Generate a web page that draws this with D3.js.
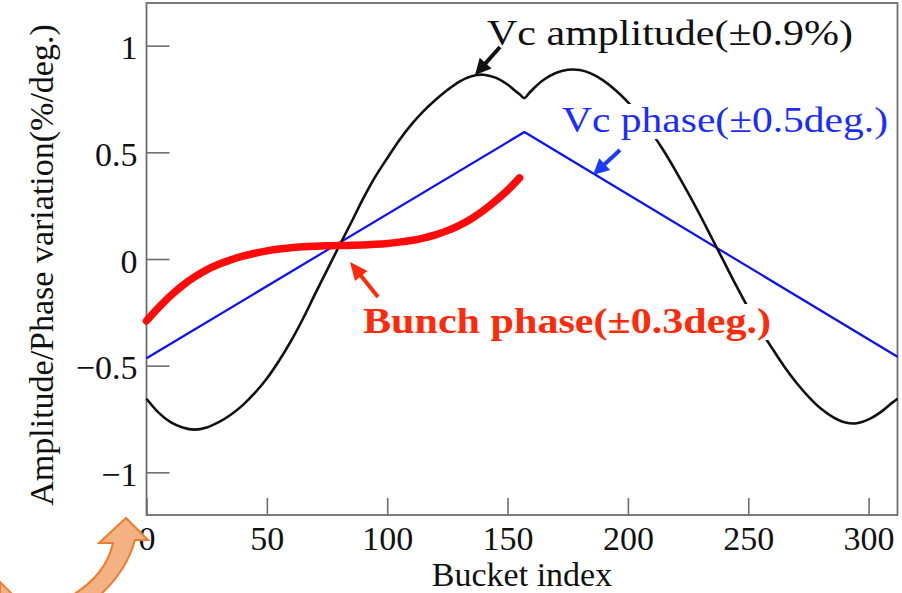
<!DOCTYPE html>
<html>
<head>
<meta charset="utf-8">
<script src="https://cdn.jsdelivr.net/npm/d3@7/dist/d3.min.js"></script>
<style>
  html, body { margin: 0; padding: 0; background: #fff; }
  svg { display: block; }
  text { font-family: "Liberation Serif", "Times New Roman", serif; }
</style>
</head>
<body>
<svg id="chart" width="902" height="593"></svg>
<script>
// Cavity voltage amplitude variation along the bunch train (%)
const ampIndex = [0, 5, 10, 15, 20, 25, 30, 35, 40, 45, 50, 55, 60, 65, 70, 75, 80, 85, 90, 95,
  100, 105, 110, 115, 120, 125, 130, 135, 140, 145, 150, 153, 155, 157, 159, 162, 165, 170, 175,
  180, 185, 190, 195, 200, 205, 210, 215, 220, 225, 230, 235, 240, 245, 250, 255, 260, 265, 270,
  275, 280, 285, 290, 295, 300, 305, 310, 312];
const ampValue = [-0.655, -0.72, -0.765, -0.79, -0.80, -0.79, -0.765, -0.73, -0.685, -0.628,
  -0.56, -0.478, -0.385, -0.28, -0.165, -0.052, 0.06, 0.17, 0.283, 0.385,
  0.472, 0.557, 0.63, 0.692, 0.745, 0.792, 0.832, 0.857, 0.864, 0.85, 0.818, 0.79, 0.772, 0.754,
  0.778, 0.812, 0.84, 0.872, 0.887, 0.886, 0.868, 0.835, 0.79, 0.735, 0.668, 0.59, 0.505, 0.41,
  0.31, 0.205, 0.095, -0.015, -0.125, -0.23, -0.33, -0.42, -0.505, -0.58, -0.645, -0.70, -0.74,
  -0.765, -0.77, -0.752, -0.718, -0.672, -0.655];

// Cavity voltage phase variation (deg.)
const phaseIndex = [0, 157, 312];
const phaseValue = [-0.465, 0.595, -0.458];

// Bunch phase variation over the first half of the train (deg.)
const bunchIndex = [0, 5, 10, 15, 20, 25, 30, 35, 40, 45, 50, 55, 60, 65, 70, 75, 80, 85, 90, 95,
  100, 105, 110, 115, 120, 125, 130, 135, 140, 145, 150, 155];
const bunchValue = [-0.29, -0.228, -0.172, -0.124, -0.084, -0.051, -0.025, -0.004, 0.013, 0.027,
  0.038, 0.047, 0.053, 0.057, 0.06, 0.062, 0.063, 0.064, 0.066, 0.069, 0.073, 0.079, 0.087, 0.098,
  0.113, 0.133, 0.158, 0.189, 0.227, 0.272, 0.322, 0.38];

const xTicks = [0, 50, 100, 150, 200, 250, 300];
const yTicks = [-1, -0.5, 0, 0.5, 1];
const yTickLabels = ["\u22121", "\u22120.5", "0", "0.5", "1"];

const svg = d3.select("#chart");
const plotLeft = 146.5, plotRight = 897.5, plotTop = 3, plotBottom = 515;

const x = d3.scaleLinear().domain([0, 312]).range([plotLeft, plotRight]);
const y = d3.scaleLinear().domain([-1.2, 1.2]).range([plotBottom, plotTop]);

const frameColor = "#6e6e6e";

// axes with inward ticks
const gx = svg.append("g").attr("transform", `translate(0,${plotBottom})`)
  .call(d3.axisBottom(x).tickValues(xTicks).tickSizeInner(-17).tickSizeOuter(0).tickPadding(0)
    .tickFormat(d3.format("d")));
gx.select(".domain").remove();
gx.selectAll(".tick line").attr("stroke", frameColor).attr("stroke-width", 1.6);
gx.selectAll(".tick text").attr("y", 35).attr("dy", 0)
  .attr("font-size", 34).attr("fill", "#111")
  .attr("font-family", "'Liberation Serif', serif");

const gy = svg.append("g").attr("transform", `translate(${plotLeft},0)`)
  .call(d3.axisLeft(y).tickValues(yTicks).tickSizeInner(-23).tickSizeOuter(0).tickPadding(9)
    .tickFormat((d, i) => yTickLabels[i]));
gy.select(".domain").remove();
gy.selectAll(".tick line").attr("stroke", frameColor).attr("stroke-width", 1.6);
gy.selectAll(".tick text").attr("dy", 13)
  .attr("font-size", 34).attr("fill", "#111")
  .attr("font-family", "'Liberation Serif', serif");

// plot frame
svg.append("rect")
  .attr("x", plotLeft).attr("y", plotTop)
  .attr("width", plotRight - plotLeft).attr("height", plotBottom - plotTop)
  .attr("fill", "none").attr("stroke", frameColor).attr("stroke-width", 1.8);

// axis titles
svg.append("text")
  .attr("x", (plotLeft + plotRight) / 2).attr("y", 586)
  .attr("text-anchor", "middle").attr("font-size", 34).attr("fill", "#111")
  .text("Bucket index");

svg.append("text")
  .attr("transform", `translate(53,${(plotTop + plotBottom) / 2 + 6}) rotate(-90)`)
  .attr("text-anchor", "middle").attr("font-size", 34).attr("fill", "#111")
  .text("Amplitude/Phase variation(%/deg.)");

// curves
const plot = svg.append("g");
const lineOf = curve => d3.line().x(d => x(d[0])).y(d => y(d[1])).curve(curve);

plot.append("path")
  .datum(phaseIndex.map((v, i) => [v, phaseValue[i]]))
  .attr("d", lineOf(d3.curveLinear))
  .attr("fill", "none").attr("stroke", "#0a10f5").attr("stroke-width", 2.2)
  .attr("stroke-linejoin", "round");

plot.append("path")
  .datum(ampIndex.map((v, i) => [v, ampValue[i]]))
  .attr("d", lineOf(d3.curveCatmullRom.alpha(0.5)))
  .attr("fill", "none").attr("stroke", "#111").attr("stroke-width", 2.6)
  .attr("stroke-linejoin", "round");

plot.append("path")
  .datum(bunchIndex.map((v, i) => [v, bunchValue[i]]))
  .attr("d", lineOf(d3.curveCatmullRom.alpha(0.5)))
  .attr("fill", "none").attr("stroke", "#ff0a0a").attr("stroke-width", 7.5)
  .attr("stroke-linecap", "round");

// annotations: text on a white box, with a pointing arrow
function label(txt, tx, ty, size, width, color, weight) {
  const g = svg.append("g");
  const bg = g.append("rect").attr("fill", "#fff");
  const t = g.append("text")
    .attr("x", tx).attr("y", ty)
    .attr("font-size", size).attr("fill", color)
    .attr("font-weight", weight)
    .attr("textLength", width).attr("lengthAdjust", "spacingAndGlyphs")
    .text(txt);
  const b = t.node().getBBox();
  bg.attr("x", b.x - 2).attr("y", b.y + 3).attr("width", b.width + 4).attr("height", b.height - 4);
}

function arrow(x1, y1, x2, y2, color, w, head, headW) {
  const dx = x2 - x1, dy = y2 - y1, len = Math.hypot(dx, dy);
  const ux = dx / len, uy = dy / len, px = -uy, py = ux;
  const bx = x2 - ux * head, by = y2 - uy * head;
  svg.append("line")
    .attr("x1", x1).attr("y1", y1).attr("x2", bx + ux * 2).attr("y2", by + uy * 2)
    .attr("stroke", color).attr("stroke-width", w);
  svg.append("path")
    .attr("d", `M${x2},${y2}L${bx + px * headW},${by + py * headW}L${bx - px * headW},${by - py * headW}Z`)
    .attr("fill", color);
}

label("Vc amplitude(\u00b10.9%)", 487, 45, 35, 366, "#111", "normal");
label("Vc phase(\u00b10.5deg.)", 562, 132, 35, 326, "#1a2cff", "normal");
label("Bunch phase(\u00b10.3deg.)", 363, 333, 36, 408, "#ff2a0a", "bold");

arrow(500, 47, 475, 75, "#111", 4, 16, 8);
arrow(620, 150, 593, 175, "#1a3cff", 4, 16, 8);
arrow(378, 297, 350, 262, "#ff2a0a", 4, 18, 8);

// curved callout arrow at the lower left
svg.append("path")
  .attr("d", "M148,540 L126,518 L99,543 L113,543 C108,565 95,582 68,598 L94,600 C114,584 128,565 135,540 Z")
  .attr("fill", "#f4b183").attr("stroke", "#ed7d31").attr("stroke-width", 2);
svg.append("path")
  .attr("d", "M0,582 C5,587 10,591 15,598 L0,598 Z")
  .attr("fill", "#f4b183").attr("stroke", "#ed7d31").attr("stroke-width", 2);
</script>
</body>
</html>
